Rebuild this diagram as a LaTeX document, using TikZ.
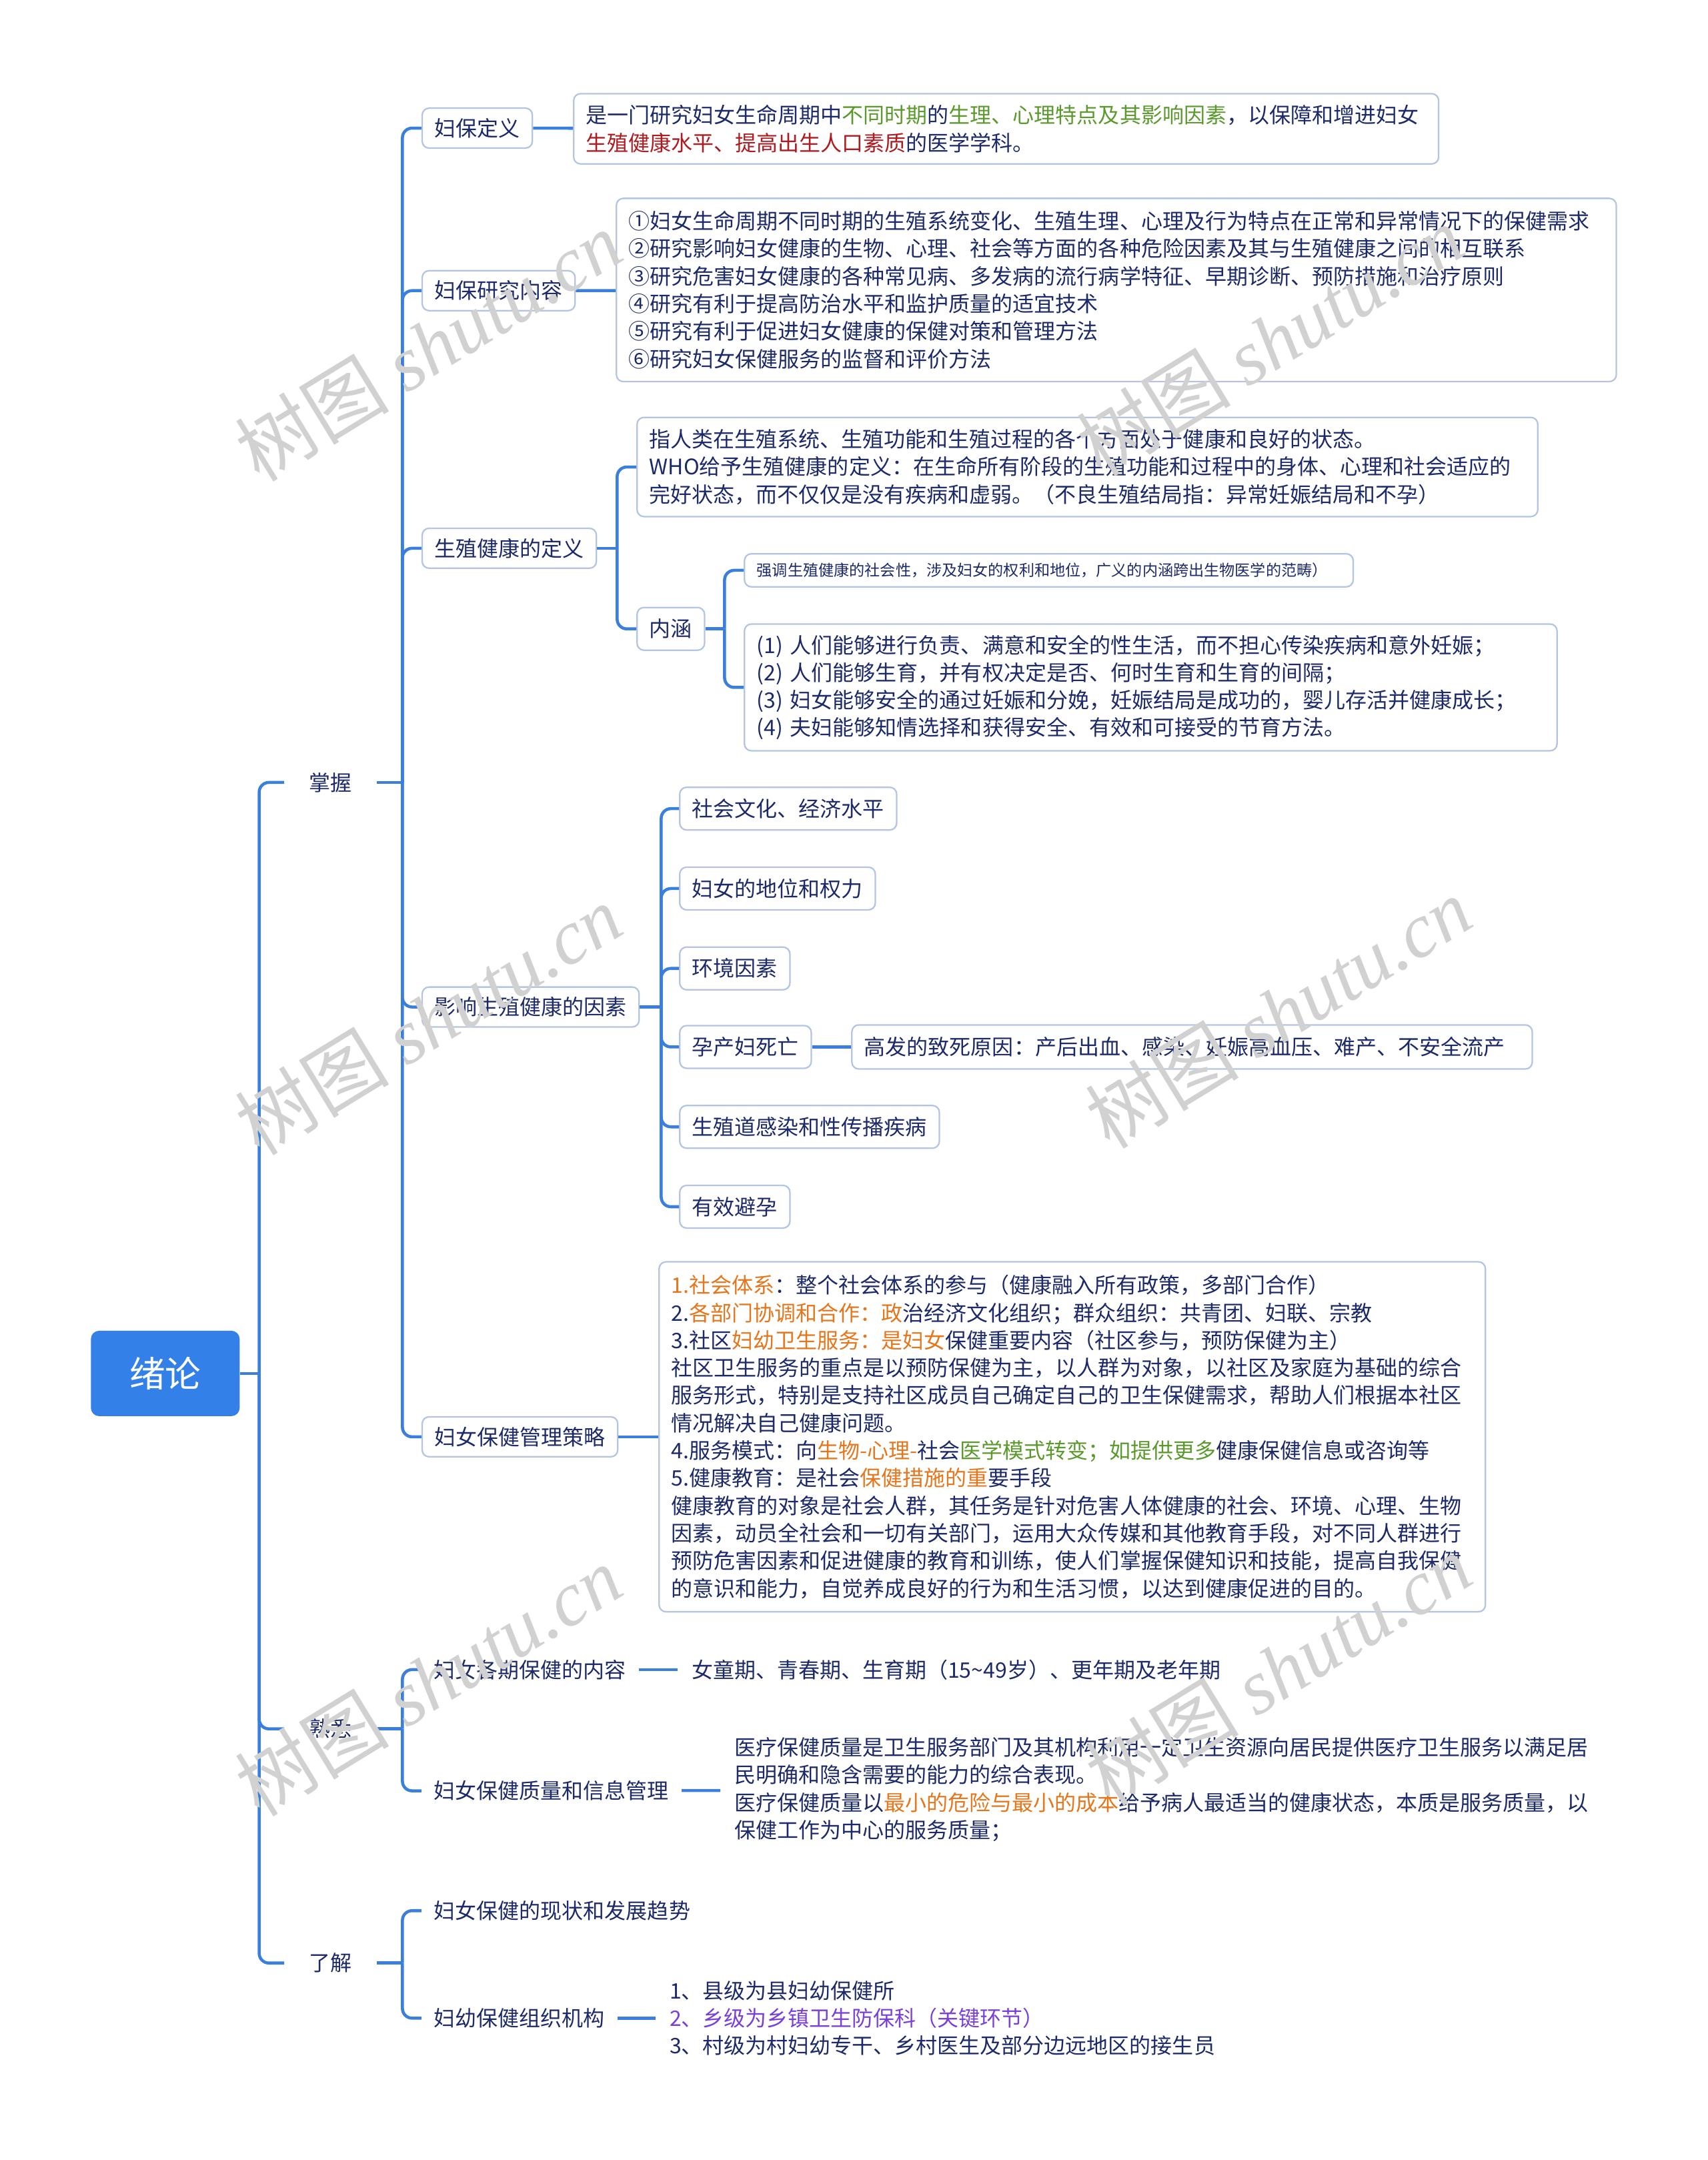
\documentclass[tikz,border=0pt]{standalone}
\usepackage{fontspec}
\setmainfont{Noto Sans CJK SC}
\newfontfamily\wmlatin{Liberation Serif}
\definecolor{navy}{HTML}{1D2A6A}
\definecolor{linkblue}{HTML}{3A7FDC}
\definecolor{rootblue}{HTML}{3381E8}
\definecolor{boxline}{HTML}{B3C5E2}
\definecolor{hlgreen}{HTML}{5A9A2C}
\definecolor{hlred}{HTML}{B0191E}
\definecolor{hlorange}{HTML}{E6761B}
\definecolor{hlpurple}{HTML}{7A3FD6}

\begin{document}
\begin{tikzpicture}[x=1pt, y=-1pt,
  every node/.style={font=\fontsize{15.5}{20}\selectfont, text=navy},
  link/.style={draw=linkblue, line width=2.2pt, rounded corners=7pt},
  rootbox/.style={fill=rootblue, rounded corners=6pt, text=white, font=\fontsize{26}{30}\selectfont, minimum width=108pt, minimum height=62pt},
  tagbox/.style={draw=boxline, line width=1.1pt, fill=white, rounded corners=5pt, inner xsep=9pt, minimum height=29pt, anchor=west},
  infobox/.style={tagbox, align=left},
  plain/.style={inner xsep=9pt, anchor=west, align=left},
  level/.style={inner xsep=18pt},
  wm/.style={text=black!18, font=\fontsize{56}{56}\selectfont, rotate=31.5}
]
% page frame
\useasboundingbox (0,0) rectangle (1240,1568);

% root and first level
\node[rootbox] (root) at (120,997) {绪论};
\node[level] (zw) at (240,568) {掌握};
\node[level] (sx) at (240,1255) {熟悉};
\node[level] (lj) at (240,1425) {了解};

% 掌握
\node[tagbox] (dingyi) at (306,93) {妇保定义};
\node[tagbox] (yanjiu) at (306,211) {妇保研究内容};
\node[tagbox] (jkdy) at (306,398) {生殖健康的定义};
\node[tagbox] (yinsu) at (306,731) {影响生殖健康的因素};
\node[tagbox] (celue) at (306,1043) {妇女保健管理策略};

\node[infobox, text width=610pt, minimum height=51pt] (dingyiTxt) at (416,93.5)
  {是一门研究妇女生命周期中\textcolor{hlgreen}{不同时期}的\textcolor{hlgreen}{生理、心理特点及其影响因素}，以保障和增进妇女\\
   \textcolor{hlred}{生殖健康水平、提高出生人口素质}的医学学科。};

\node[infobox, text width=708pt, minimum height=133pt] (yanjiuTxt) at (447,210.5)
  {①妇女生命周期不同时期的生殖系统变化、生殖生理、心理及行为特点在正常和异常情况下的保健需求\\
   ②研究影响妇女健康的生物、心理、社会等方面的各种危险因素及其与生殖健康之间的相互联系\\
   ③研究危害妇女健康的各种常见病、多发病的流行病学特征、早期诊断、预防措施和治疗原则\\
   ④研究有利于提高防治水平和监护质量的适宜技术\\
   ⑤研究有利于促进妇女健康的保健对策和管理方法\\
   ⑥研究妇女保健服务的监督和评价方法};

\node[infobox, text width=636pt, minimum height=72pt] (jkdyTxt) at (462,339)
  {指人类在生殖系统、生殖功能和生殖过程的各个方面处于健康和良好的状态。\\
   WHO给予生殖健康的定义：在生命所有阶段的生殖功能和过程中的身体、心理和社会适应的\\
   完好状态，而不仅仅是没有疾病和虚弱。（不良生殖结局指：异常妊娠结局和不孕）};
\node[tagbox, minimum height=31pt] (neihan) at (462,456.5) {内涵};
\node[infobox, text width=424pt, minimum height=24pt, font=\fontsize{11.2}{14}\selectfont] (neihanA) at (540,414)
  {强调生殖健康的社会性，涉及妇女的权利和地位，广义的内涵跨出生物医学的范畴）};
\node[infobox, text width=572pt, minimum height=92pt] (neihanB) at (540,499)
  {(1) 人们能够进行负责、满意和安全的性生活，而不担心传染疾病和意外妊娠；\\
   (2) 人们能够生育，并有权决定是否、何时生育和生育的间隔；\\
   (3) 妇女能够安全的通过妊娠和分娩，妊娠结局是成功的，婴儿存活并健康成长；\\
   (4) 夫妇能够知情选择和获得安全、有效和可接受的节育方法。};

\node[tagbox, minimum height=31pt] (ys1) at (493,587) {社会文化、经济水平};
\node[tagbox, minimum height=31pt] (ys2) at (493,645) {妇女的地位和权力};
\node[tagbox, minimum height=31pt] (ys3) at (493,703) {环境因素};
\node[tagbox, minimum height=31pt] (ys4) at (493,760) {孕产妇死亡};
\node[tagbox, minimum height=31pt] (ys5) at (493,818) {生殖道感染和性传播疾病};
\node[tagbox, minimum height=31pt] (ys6) at (493,876) {有效避孕};
\node[infobox, text width=476pt, minimum height=32pt] (ysDeath) at (618,760)
  {高发的致死原因：产后出血、感染、妊娠高血压、难产、不安全流产};

\node[infobox, text width=582pt, minimum height=254pt] (celueTxt) at (478,1043)
  {\textcolor{hlorange}{1.社会体系}：整个社会体系的参与（健康融入所有政策，多部门合作）\\
   2.\textcolor{hlorange}{各部门协调和合作：政}治经济文化组织；群众组织：共青团、妇联、宗教\\
   3.社区\textcolor{hlorange}{妇幼卫生服务：是妇女}保健重要内容（社区参与，预防保健为主）\\
   社区卫生服务的重点是以预防保健为主，以人群为对象，以社区及家庭为基础的综合\\
   服务形式，特别是支持社区成员自己确定自己的卫生保健需求，帮助人们根据本社区\\
   情况解决自己健康问题。\\
   4.服务模式：向\textcolor{hlorange}{生物-心理-}社会\textcolor{hlgreen}{医学模式转变；如提供更多}健康保健信息或咨询等\\
   5.健康教育：是社会\textcolor{hlorange}{保健措施的重}要手段\\
   健康教育的对象是社会人群，其任务是针对危害人体健康的社会、环境、心理、生物\\
   因素，动员全社会和一切有关部门，运用大众传媒和其他教育手段，对不同人群进行\\
   预防危害因素和促进健康的教育和训练，使人们掌握保健知识和技能，提高自我保健\\
   的意识和能力，自觉养成良好的行为和生活习惯，以达到健康促进的目的。};

% 熟悉
\node[plain] (sxA) at (306,1212) {妇女各期保健的内容};
\node[plain, inner xsep=10pt] (sxATxt) at (492,1212) {女童期、青春期、生育期（15\textasciitilde49岁）、更年期及老年期};
\node[plain] (sxB) at (306,1300) {妇女保健质量和信息管理};
\node[plain, inner xsep=10pt] (sxBTxt) at (523,1299)
  {医疗保健质量是卫生服务部门及其机构利用一定卫生资源向居民提供医疗卫生服务以满足居\\
   民明确和隐含需要的能力的综合表现。\\
   医疗保健质量以\textcolor{hlorange}{最小的危险与最小的成本}给予病人最适当的健康状态，本质是服务质量，以\\
   保健工作为中心的服务质量；};

% 了解
\node[plain] (ljA) at (306,1387) {妇女保健的现状和发展趋势};
\node[plain] (ljB) at (306,1465) {妇幼保健组织机构};
\node[plain, inner xsep=10pt] (ljBTxt) at (476,1465)
  {1、县级为县妇幼保健所\\
   \textcolor{hlpurple}{2、乡级为乡镇卫生防保科（关键环节）}\\
   3、村级为村妇幼专干、乡村医生及部分边远地区的接生员};

% connectors
\draw[link] (root.east) -- ++(14,0);
\foreach \c in {zw,sx,lj}
  \draw[link] ([xshift=14pt]root.east) |- (\c.west);
\draw[link] (zw.east) -- ++(18.5,0);
\foreach \c in {dingyi,yanjiu,jkdy,yinsu,celue}
  \draw[link] ([xshift=18.5pt]zw.east) |- (\c.west);
\draw[link] (sx.east) -- ++(18.5,0);
\foreach \c in {sxA,sxB}
  \draw[link] ([xshift=18.5pt]sx.east) |- (\c.west);
\draw[link] (lj.east) -- ++(18.5,0);
\foreach \c in {ljA,ljB}
  \draw[link] ([xshift=18.5pt]lj.east) |- (\c.west);
\draw[link] (jkdy.east) -- ++(14.5,0);
\foreach \c in {jkdyTxt,neihan}
  \draw[link] ([xshift=14.5pt]jkdy.east) |- (\c.west);
\draw[link] (neihan.east) -- ++(14,0);
\foreach \c in {neihanA,neihanB}
  \draw[link] ([xshift=14pt]neihan.east) |- (\c.west);
\draw[link] (yinsu.east) -- ++(15.5,0);
\foreach \c in {ys1,ys2,ys3,ys4,ys5,ys6}
  \draw[link] ([xshift=15.5pt]yinsu.east) |- (\c.west);
\draw[link] (dingyi) -- (dingyiTxt);
\draw[link] (yanjiu) -- (yanjiuTxt);
\draw[link] (celue) -- (celueTxt);
\draw[link] (ys4) -- (ysDeath);
\draw[link] (sxA) -- (sxATxt);
\draw[link] (sxB) -- (sxBTxt);
\draw[link] (ljB) -- (ljBTxt);

% watermarks
\foreach \p [count=\i] in {(311,251),(922,247),(311,740),(928,735),(311,1220),(928,1212)}
  \node[wm] (wm\i) at \p {树图 {\wmlatin\itshape shutu.cn}};
\end{tikzpicture}
\end{document}
